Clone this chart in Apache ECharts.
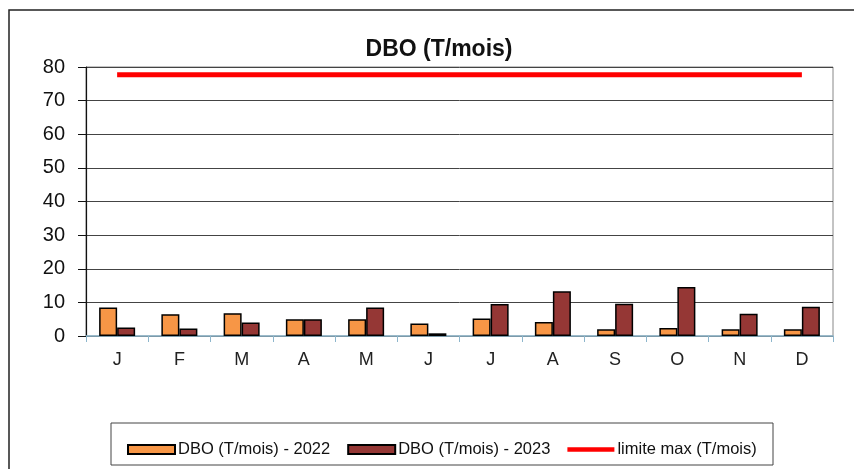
<!DOCTYPE html>
<html>
<head>
<meta charset="utf-8">
<script src="https://cdn.jsdelivr.net/npm/echarts@6/dist/echarts.min.js"></script>
<style>
  html, body { margin: 0; padding: 0; background: #fff; }
  #chart { width: 854px; height: 469px; }
</style>
</head>
<body>
<div id="chart"></div>
<script>
// DBO monthly loads
const months = ['J', 'F', 'M', 'A', 'M', 'J', 'J', 'A', 'S', 'O', 'N', 'D'];
const dbo2022 = [8.5, 6.5, 6.8, 5, 5, 3.7, 5.2, 4.2, 2, 2.4, 2, 2];
const dbo2023 = [2.5, 2.2, 4, 5, 8.5, 0.8, 9.5, 13.3, 9.6, 14.6, 6.6, 8.7];
const limitMax = months.map(() => 77.7);
const yTicks = [0, 10, 20, 30, 40, 50, 60, 70, 80];

const chart = echarts.init(document.getElementById('chart'));
const font = 'Liberation Sans, Arial, sans-serif';

chart.setOption({
  animation: false,
  textStyle: { fontFamily: font },
  graphic: [
    // outer chart frame (runs off the right and bottom of the picture)
    { type: 'rect', shape: { x: 9, y: 10, width: 900, height: 520 },
      style: { fill: 'none', stroke: '#222', lineWidth: 1.5 }, z: -1 },
    // legend frame
    { type: 'rect', shape: { x: 111, y: 423, width: 662, height: 42 },
      style: { fill: '#fff', stroke: '#444', lineWidth: 1 }, z: 0 }
  ],
  title: {
    text: 'DBO (T/mois)',
    left: 434, top: 33, textAlign: 'center',
    textStyle: { fontFamily: font, fontSize: 23, fontWeight: 'bold', color: '#111' }
  },
  legend: {
    left: 122, top: 436,
    itemWidth: 47, itemHeight: 9, itemGap: 17,
    textStyle: { fontFamily: font, fontSize: 16.5, color: '#111', padding: [0, 0, 0, -2] },
    data: [
      { name: 'DBO (T/mois) - 2022', icon: 'rect' },
      { name: 'DBO (T/mois) - 2023', icon: 'rect' },
      { name: 'limite max (T/mois)', icon: 'path://M0,0H100V10H0Z',
        itemStyle: { color: '#ff0000', borderWidth: 0 } }
    ]
  },
  grid: {
    left: 86, right: 21, top: 67, bottom: 133,
    show: true, borderColor: '#888', borderWidth: 1
  },
  xAxis: {
    type: 'category',
    data: months,
    axisLine: { lineStyle: { color: '#8db6cc', width: 1.5 } },
    axisTick: { show: true, length: 6, lineStyle: { color: '#8db6cc' } },
    axisLabel: { fontFamily: font, fontSize: 18, color: '#222', margin: 15 }
  },
  yAxis: {
    type: 'value',
    min: 0, max: 80, interval: 10,
    axisLine: { show: true, lineStyle: { color: '#111', width: 1.2 } },
    axisTick: { show: true, length: 8, lineStyle: { color: '#111' } },
    axisLabel: {
      fontFamily: font, fontSize: 20, color: '#111', margin: 21,
      formatter: v => yTicks.includes(v) ? String(v) : ''
    },
    splitLine: { lineStyle: { color: '#444', width: 1 } }
  },
  series: [
    {
      name: 'DBO (T/mois) - 2022',
      type: 'bar',
      data: dbo2022,
      barWidth: 18,
      barGap: '0%',
      itemStyle: { color: '#f79646', borderColor: '#000', borderWidth: 1.5 }
    },
    {
      name: 'DBO (T/mois) - 2023',
      type: 'bar',
      data: dbo2023,
      barWidth: 18,
      itemStyle: { color: '#953735', borderColor: '#000', borderWidth: 1.5 }
    },
    {
      name: 'limite max (T/mois)',
      type: 'line',
      data: limitMax,
      symbol: 'none',
      lineStyle: { color: '#ff0000', width: 5 },
      itemStyle: { color: '#ff0000' }
    }
  ]
});
</script>
</body>
</html>
